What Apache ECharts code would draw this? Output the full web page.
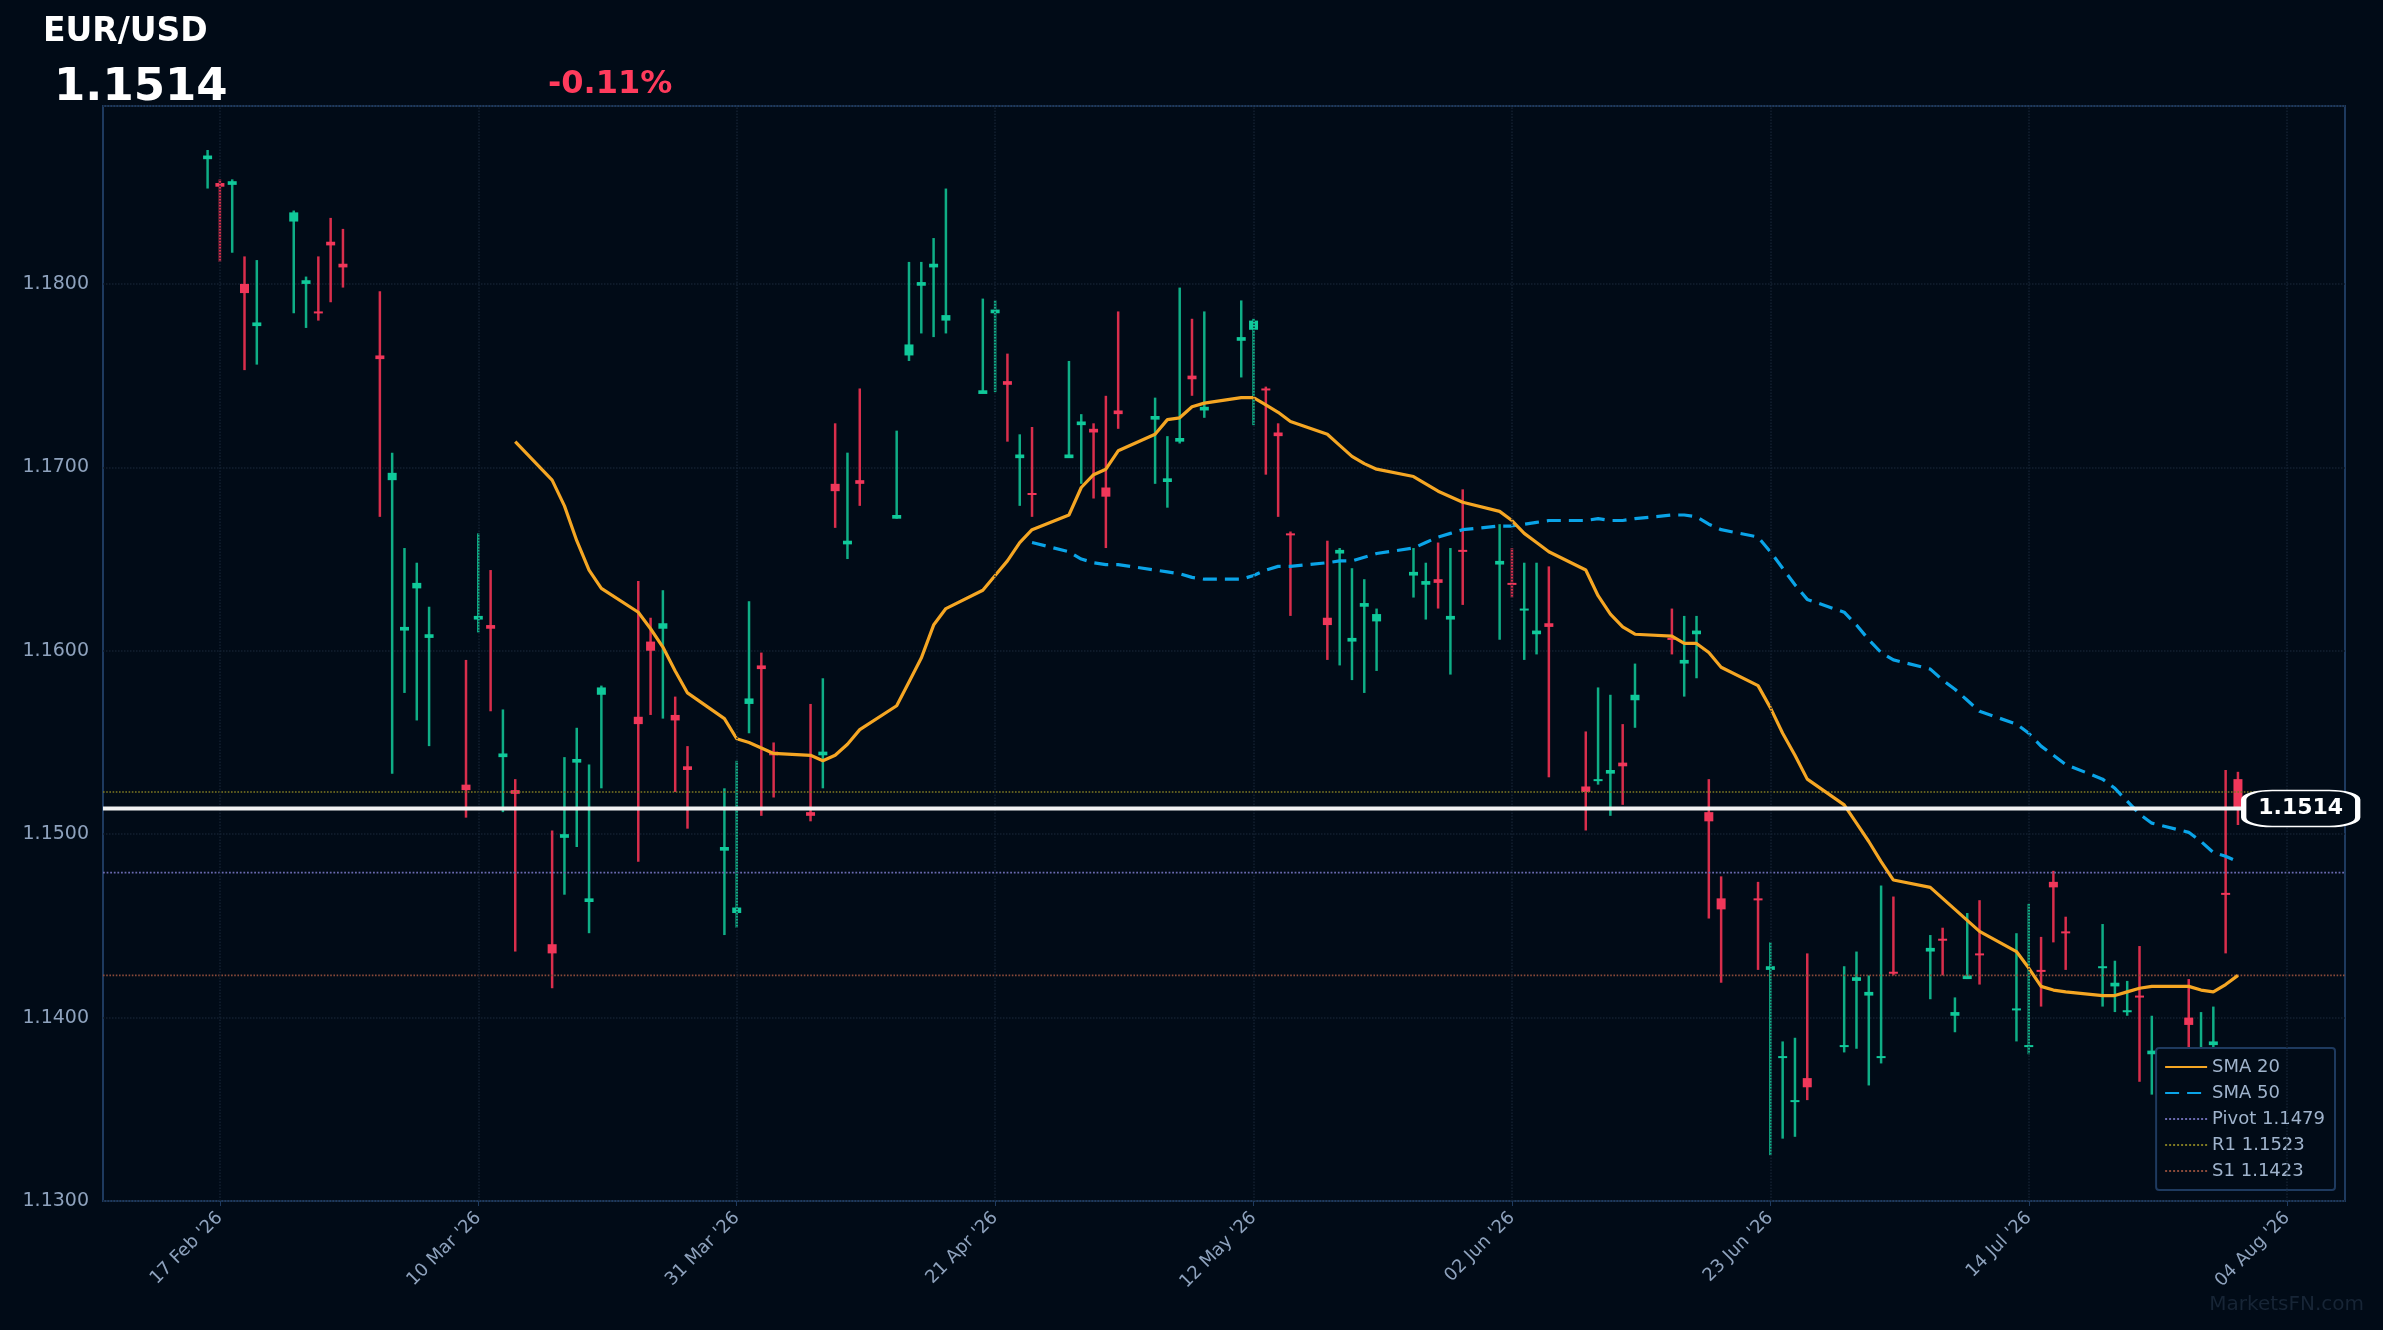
<!DOCTYPE html>
<html><head><meta charset="utf-8">
<script src="https://cdn.jsdelivr.net/npm/echarts@6/dist/echarts.min.js"></script>
<style>html,body{margin:0;padding:0;background:#010b17}#c{width:2383px;height:1330px}</style>
</head><body><div id="c"></div>
<script>
// OHLC rows: [open, close, low, high], one per weekday from Mon 16 Feb 2026
const ohlc = [
[1.1868,1.1870,1.1852,1.1873],[1.1855,1.1853,1.1812,1.1857],[1.1854,1.1856,1.1817,1.1857],[1.1800,1.1795,1.1753,1.1815],[1.1777,1.1779,1.1756,1.1813],
[1.1834,1.1839,1.1784,1.1840],[1.1800,1.1802,1.1776,1.1804],[1.1785,1.1784,1.1780,1.1815],[1.1823,1.1821,1.1790,1.1836],[1.1811,1.1809,1.1798,1.1830],
[1.1761,1.1759,1.1673,1.1796],[1.1693,1.1697,1.1533,1.1708],[1.1611,1.1613,1.1577,1.1656],[1.1634,1.1637,1.1562,1.1648],[1.1607,1.1609,1.1548,1.1624],
[1.1527,1.1524,1.1509,1.1595],[1.1617,1.1619,1.1610,1.1664],[1.1614,1.1612,1.1567,1.1644],[1.1542,1.1544,1.1512,1.1568],[1.1524,1.1522,1.1436,1.1530],
[1.1440,1.1435,1.1416,1.1502],[1.1498,1.1500,1.1467,1.1542],[1.1539,1.1541,1.1493,1.1558],[1.1463,1.1465,1.1446,1.1538],[1.1576,1.1580,1.1525,1.1581],
[1.1564,1.1560,1.1485,1.1638],[1.1605,1.1600,1.1565,1.1618],[1.1612,1.1615,1.1563,1.1633],[1.1565,1.1562,1.1523,1.1575],[1.1537,1.1535,1.1503,1.1548],
[1.1491,1.1493,1.1445,1.1525],[1.1457,1.1460,1.1449,1.1540],[1.1571,1.1574,1.1555,1.1627],[1.1592,1.1590,1.1510,1.1599],[1.1545,1.1543,1.1520,1.1550],
[1.1512,1.1510,1.1507,1.1571],[1.1543,1.1545,1.1525,1.1585],[1.1691,1.1687,1.1667,1.1724],[1.1658,1.1660,1.1650,1.1708],[1.1693,1.1691,1.1679,1.1743],
[1.1672,1.1674,1.1672,1.1720],[1.1761,1.1767,1.1758,1.1812],[1.1799,1.1801,1.1773,1.1812],[1.1809,1.1811,1.1771,1.1825],[1.1780,1.1783,1.1773,1.1852],
[1.1740,1.1742,1.1741,1.1792],[1.1784,1.1786,1.1741,1.1791],[1.1747,1.1745,1.1714,1.1762],[1.1705,1.1707,1.1679,1.1718],[1.1686,1.1685,1.1673,1.1722],
[1.1705,1.1707,1.1706,1.1758],[1.1723,1.1725,1.1691,1.1729],[1.1721,1.1719,1.1683,1.1724],[1.1689,1.1684,1.1656,1.1739],[1.1731,1.1729,1.1721,1.1785],
[1.1726,1.1728,1.1691,1.1738],[1.1692,1.1694,1.1678,1.1717],[1.1714,1.1716,1.1713,1.1798],[1.1750,1.1748,1.1739,1.1781],[1.1731,1.1733,1.1727,1.1785],
[1.1769,1.1771,1.1749,1.1791],[1.1775,1.1780,1.1723,1.1781],[1.1743,1.1742,1.1696,1.1744],[1.1719,1.1717,1.1673,1.1724],[1.1664,1.1663,1.1619,1.1665],
[1.1618,1.1614,1.1595,1.1660],[1.1653,1.1655,1.1592,1.1656],[1.1605,1.1607,1.1584,1.1645],[1.1624,1.1626,1.1577,1.1639],[1.1616,1.1620,1.1589,1.1623],
[1.1641,1.1643,1.1629,1.1656],[1.1636,1.1638,1.1617,1.1648],[1.1639,1.1637,1.1623,1.1659],[1.1617,1.1619,1.1587,1.1656],[1.1655,1.1654,1.1625,1.1688],
[1.1647,1.1649,1.1606,1.1669],[1.1637,1.1636,1.1629,1.1656],[1.1622,1.1623,1.1595,1.1648],[1.1609,1.1611,1.1598,1.1648],[1.1615,1.1613,1.1531,1.1646],
[1.1526,1.1523,1.1502,1.1556],[1.1529,1.1530,1.1527,1.1580],[1.1533,1.1535,1.1510,1.1576],[1.1539,1.1537,1.1516,1.1560],[1.1573,1.1576,1.1558,1.1593],
[1.1607,1.1606,1.1598,1.1623],[1.1593,1.1595,1.1575,1.1619],[1.1609,1.1611,1.1585,1.1619],[1.1512,1.1507,1.1454,1.1530],[1.1465,1.1459,1.1419,1.1477],
[1.1465,1.1464,1.1426,1.1474],[1.1426,1.1428,1.1325,1.1441],[1.1378,1.1379,1.1334,1.1387],[1.1354,1.1355,1.1335,1.1389],[1.1367,1.1362,1.1355,1.1435],
[1.1384,1.1385,1.1381,1.1428],[1.1420,1.1422,1.1383,1.1436],[1.1412,1.1414,1.1363,1.1423],[1.1378,1.1379,1.1375,1.1472],[1.1425,1.1424,1.1423,1.1466],
[1.1436,1.1438,1.1410,1.1445],[1.1443,1.1442,1.1423,1.1449],[1.1401,1.1403,1.1392,1.1411],[1.1421,1.1423,1.1421,1.1457],[1.1435,1.1434,1.1418,1.1464],
[1.1404,1.1405,1.1387,1.1446],[1.1384,1.1385,1.1380,1.1462],[1.1426,1.1425,1.1406,1.1444],[1.1474,1.1471,1.1441,1.1480],[1.1447,1.1446,1.1426,1.1455],
[1.1427,1.1428,1.1406,1.1451],[1.1417,1.1419,1.1403,1.1431],[1.1403,1.1404,1.1401,1.1420],[1.1412,1.1411,1.1365,1.1439],[1.1380,1.1382,1.1358,1.1401],
[1.1400,1.1396,1.1370,1.1421],[1.1371,1.1372,1.1356,1.1403],[1.1385,1.1387,1.1373,1.1406],[1.1468,1.1467,1.1435,1.1535],[1.1530,1.1514,1.1505,1.1534]
];
// SMA 20 from the 20th bar, SMA 50 from the 50th bar
const sma20 = [1.1714,1.1693,1.1679,1.1660,1.1644,1.1634,1.1621,1.1612,1.1602,1.1589,1.1577,1.1563,1.1552,1.1550,1.1547,1.1544,1.1543,1.1540,1.1543,1.1549,1.1557,1.1570,1.1583,1.1596,1.1614,1.1623,1.1633,1.1641,1.1649,1.1659,1.1666,1.1674,1.1689,1.1696,1.1699,1.1709,1.1718,1.1726,1.1727,1.1733,1.1735,1.1738,1.1738,1.1734,1.1730,1.1725,1.1718,1.1712,1.1706,1.1702,1.1699,1.1695,1.1691,1.1687,1.1684,1.1681,1.1676,1.1671,1.1664,1.1659,1.1654,1.1644,1.1630,1.1620,1.1613,1.1609,1.1608,1.1604,1.1604,1.1599,1.1591,1.1581,1.1569,1.1555,1.1543,1.1530,1.1516,1.1506,1.1496,1.1485,1.1475,1.1471,1.1465,1.1459,1.1453,1.1447,1.1436,1.1427,1.1417,1.1415,1.1414,1.1412,1.1412,1.1414,1.1416,1.1417,1.1417,1.1415,1.1414,1.1418,1.1423];
const sma50 = [1.1659,1.1654,1.1650,1.1648,1.1647,1.1647,1.1644,1.1643,1.1642,1.1640,1.1639,1.1639,1.1641,1.1644,1.1646,1.1646,1.1648,1.1649,1.1649,1.1651,1.1653,1.1656,1.1659,1.1662,1.1664,1.1666,1.1668,1.1668,1.1669,1.1670,1.1671,1.1671,1.1672,1.1671,1.1671,1.1672,1.1674,1.1674,1.1673,1.1669,1.1666,1.1662,1.1654,1.1645,1.1636,1.1628,1.1621,1.1614,1.1606,1.1599,1.1595,1.1590,1.1584,1.1579,1.1573,1.1567,1.1560,1.1555,1.1548,1.1543,1.1538,1.1530,1.1525,1.1518,1.1511,1.1506,1.1501,1.1496,1.1490,1.1488,1.1485];
const lastPrice = 1.1514, pivot = 1.1479, r1 = 1.1523, s1 = 1.1423;
const tickLabels = ["17 Feb '26","10 Mar '26","31 Mar '26","21 Apr '26","12 May '26","02 Jun '26","23 Jun '26","14 Jul '26","04 Aug '26"];
const tickDays = [0,21,42,63,84,105,126,147,168]; // days after 17 Feb 2026

// x position of each bar in days after 17 Feb (weekdays only, starting Mon 16 Feb)
const xs = [];
for (let d = -1; xs.length < ohlc.length; d++) { const w = ((d + 1) % 7 + 7) % 7; if (w < 5) xs.push(d); }
const XMIN = -9.5, XMAX = 172.7;
const candles = ohlc.map((r, i) => [xs[i], r[0], r[1], r[2], r[3]]);
const s20 = sma20.map((v, i) => [xs[i + 19], v]);
const s50 = sma50.map((v, i) => [xs[i + 49], v]);
const hl = v => [[XMIN, v], [XMAX, v]];

const chart = echarts.init(document.getElementById('c'));
chart.setOption({
  backgroundColor: '#010b17',
  animation: false,
  title: [
    {text: 'EUR/USD', left: 38, top: 11, textStyle: {color: '#ffffff', fontSize: 33, fontWeight: 'bold', fontFamily: 'DejaVu Sans'}},
    {text: '1.1514', left: 49, top: 61, textStyle: {color: '#ffffff', fontSize: 45, fontWeight: 'bold', fontFamily: 'DejaVu Sans'}},
    {text: '-0.11%', left: 543, top: 64, textStyle: {color: '#ff3b5c', fontSize: 32, fontWeight: 'bold', fontFamily: 'DejaVu Sans'}},
    {text: 'MarketsFN.com', right: 14, bottom: 10, textStyle: {color: '#172536', fontSize: 20, fontWeight: 'normal', fontFamily: 'DejaVu Sans'}}
  ],
  grid: {left: 103, right: 38, top: 106, bottom: 129, show: true, borderColor: '#1e3a5f', borderWidth: 2, backgroundColor: 'transparent'},
  legend: {
    orient: 'vertical', right: 48, bottom: 140, itemGap: 8, itemWidth: 42, itemHeight: 10,
    backgroundColor: '#010b17', borderColor: '#1e3a5f', borderWidth: 2, borderRadius: 3, padding: [10, 10, 10, 8],
    itemStyle: {opacity: 0},
    textStyle: {color: '#9fb3cc', fontSize: 18, fontFamily: 'DejaVu Sans'},
    data: ['SMA 20', 'SMA 50', 'Pivot 1.1479', 'R1 1.1523', 'S1 1.1423']
  },
  xAxis: {
    type: 'value', min: XMIN, max: XMAX,
    axisLine: {show: false}, splitLine: {show: false},
    axisTick: {show: true, customValues: tickDays, lineStyle: {color: '#1e3a5f'}},
    axisLabel: {customValues: tickDays, rotate: 45, color: '#8ea2bd', fontSize: 18, fontFamily: 'DejaVu Sans', margin: 14,
      formatter: v => tickLabels[tickDays.indexOf(Math.round(v))] || ''}
  },
  yAxis: {
    type: 'value', min: 1.13, max: 1.1897, interval: 0.01, position: 'left',
    axisLine: {show: false}, axisTick: {show: false},
    axisLabel: {color: '#8ea2bd', fontSize: 19, fontFamily: 'DejaVu Sans', margin: 14, formatter: v => v.toFixed(4), showMaxLabel: false},
    splitLine: {lineStyle: {color: '#132131', type: 'dotted', width: 1.5}}
  },
  series: [
    {name: 'grid-x', type: 'line', data: [], silent: true,
      markLine: {symbol: 'none', silent: true, label: {show: false},
        lineStyle: {color: '#132131', type: 'dotted', width: 1.5},
        data: tickDays.map(d => ({xAxis: d}))}},
    {name: 'S1 1.1423', type: 'line', data: hl(s1), symbol: 'none', lineStyle: {color: '#8a4a3a', type: 'dotted', width: 1.6}, itemStyle: {color: '#8a4a3a'}},
    {name: 'Pivot 1.1479', type: 'line', data: hl(pivot), symbol: 'none', lineStyle: {color: '#6a6ab0', type: 'dotted', width: 1.8}, itemStyle: {color: '#6a6ab0'}},
    {name: 'R1 1.1523', type: 'line', data: hl(r1), symbol: 'none', lineStyle: {color: '#7f7a22', type: 'dotted', width: 1.6}, itemStyle: {color: '#7f7a22'}},
    {name: 'price', type: 'line', data: hl(lastPrice), symbol: 'none', lineStyle: {color: '#f2f2f2', width: 4}, z: 5},
    {name: 'priceTag', type: 'scatter', z: 20, silent: true, symbol: 'roundRect', symbolSize: [114, 36],
      itemStyle: {color: '#010b17', borderColor: '#ffffff', borderWidth: 3, opacity: 1},
      label: {show: true, position: 'inside', formatter: '1.1514', color: '#ffffff', fontSize: 22, fontWeight: 'bold', fontFamily: 'DejaVu Sans'},
      data: [[169.1, lastPrice]]},
    {name: 'candles', type: 'custom', z: 3,
      data: candles,
      encode: {x: 0, y: [1, 2, 3, 4]},
      renderItem: (params, api) => {
        const x = api.value(0), o = api.value(1), c = api.value(2), l = api.value(3), h = api.value(4);
        const up = c >= o;
        const pO = api.coord([x, o]), pC = api.coord([x, c]), pL = api.coord([x, l]), pH = api.coord([x, h]);
        const w = 9;
        const top = Math.min(pO[1], pC[1]), ht = Math.max(Math.abs(pO[1] - pC[1]), 2);
        return {type: 'group', children: [
          {type: 'line', shape: {x1: pH[0], y1: pH[1], x2: pL[0], y2: pL[1]}, style: {stroke: up ? '#0fae86' : '#d92e4c', lineWidth: 2.5}},
          {type: 'rect', shape: {x: pO[0] - w / 2, y: top, width: w, height: ht}, style: {fill: up ? '#10c99a' : '#f0375a'}}
        ]};
      }},
    {name: 'SMA 50', type: 'line', data: s50, symbol: 'none', z: 4, lineStyle: {color: '#0aa4e8', width: 3.2, type: [14, 8]}, itemStyle: {color: '#0aa4e8'}},
    {name: 'SMA 20', type: 'line', data: s20, symbol: 'none', z: 4, lineStyle: {color: '#f5a623', width: 3.2}, itemStyle: {color: '#f5a623'}}
  ]
});
</script></body></html>
